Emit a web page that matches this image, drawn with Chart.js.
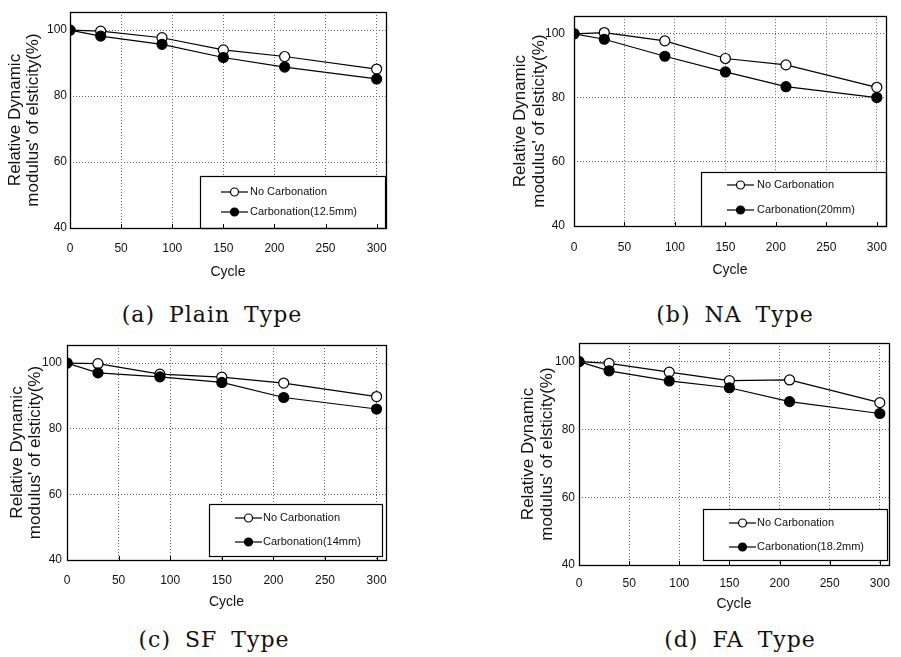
<!DOCTYPE html>
<html>
<head>
<meta charset="utf-8">
<script src="https://cdn.jsdelivr.net/npm/chart.js@4.4.1/dist/chart.umd.min.js"></script>
<style>
html,body{margin:0;padding:0;background:#fff;}
body{width:901px;height:657px;position:relative;overflow:hidden;}
canvas{position:absolute;}
.cap{position:absolute;font-family:'DejaVu Serif',serif;font-size:22px;letter-spacing:1px;word-spacing:6px;white-space:nowrap;transform:translate(-50%,-50%);color:#111;}
</style>
</head>
<body>
<canvas id="cA" width="400" height="290" style="left:0;top:0"></canvas>
<canvas id="cB" width="397" height="290" style="left:504px;top:0"></canvas>
<canvas id="cC" width="400" height="290" style="left:0;top:330px"></canvas>
<canvas id="cD" width="397" height="290" style="left:504px;top:330px"></canvas>
<div class="cap" style="left:212px;top:314px">(a) Plain Type</div>
<div class="cap" style="left:735px;top:314px">(b) NA Type</div>
<div class="cap" style="left:214px;top:639px">(c) SF Type</div>
<div class="cap" style="left:740px;top:639px">(d) FA Type</div>
<script>
/* freeze-thaw cycles vs relative dynamic modulus, 4 mix types */
const CYCLES = [0, 30, 90, 150, 210, 300];
const X_TICKS = [0, 50, 100, 150, 200, 250, 300];
const Y_TICKS = [40, 60, 80, 100];

const PLAIN_NO = [100, 99.7, 97.7, 94.0, 92.0, 88.2];
const PLAIN_C  = [100, 98.2, 95.7, 91.7, 88.8, 85.2];
const NA_NO    = [100, 100.4, 97.8, 92.3, 90.3, 83.3];
const NA_C     = [100, 98.3, 93.0, 88.1, 83.5, 80.1];
const SF_NO    = [100, 99.8, 96.6, 95.7, 93.9, 89.8];
const SF_C     = [100, 97.0, 95.8, 94.1, 89.5, 86.0];
const FA_NO    = [100, 99.5, 96.9, 94.4, 94.6, 87.9];
const FA_C     = [100, 97.3, 94.3, 92.3, 88.2, 84.7];

const NO_LABEL = 'No Carbonation';
const Y_TITLE = ['Relative Dynamic', "modulus' of elsticity(%)"];
const X_TITLE = 'Cycle';

const FONT = "'Liberation Sans', Arial, sans-serif";

function pts(vals){ return CYCLES.map((c,i)=>({x:c, y:vals[i]})); }

// outer frame + little tick marks on the bottom edge
const frame = {
  id:'frame',
  afterDraw(chart){
    const {ctx, chartArea:a} = chart;
    const xs = chart.scales.x;
    ctx.save();
    ctx.strokeStyle = '#000'; ctx.lineWidth = 1.3;
    ctx.strokeRect(Math.round(a.left)+0.5, Math.round(a.top)+0.5, Math.round(a.right-a.left), Math.round(a.bottom-a.top));
    ctx.lineWidth = 1;
    xs.ticks.forEach(t=>{
      const px = Math.round(xs.getPixelForValue(t.value))+0.5;
      ctx.beginPath(); ctx.moveTo(px, a.bottom); ctx.lineTo(px, a.bottom-4); ctx.stroke();
    });
    ctx.restore();
  }
};

// boxed legend inside the lower right of the plot
const boxLegend = {
  id:'boxLegend',
  afterDatasetsDraw(chart, args, o){
    const {ctx, chartArea:a} = chart;
    const x = Math.round(a.right - o.right - o.w), y = Math.round(a.bottom - o.bottom - o.h);
    ctx.save();
    ctx.fillStyle = '#fff'; ctx.fillRect(x, y, o.w, o.h);
    ctx.strokeStyle = '#000'; ctx.lineWidth = 1.2;
    ctx.strokeRect(x+0.5, y+0.5, o.w, o.h);
    chart.data.datasets.forEach((ds,i)=>{
      const ry = y + o.rows[i];
      ctx.lineWidth = 1.2;
      ctx.beginPath(); ctx.moveTo(x+o.lineX, ry); ctx.lineTo(x+o.lineX+27, ry); ctx.stroke();
      ctx.beginPath(); ctx.arc(x+o.lineX+13.5, ry, 4, 0, Math.PI*2);
      ctx.fillStyle = ds.pointBackgroundColor; ctx.fill(); ctx.stroke();
      ctx.fillStyle = '#111'; ctx.font = '11px ' + FONT; ctx.textBaseline = 'middle';
      ctx.fillText(ds.label, x+o.textX, ry);
    });
    ctx.restore();
  }
};

function makeChart(id, noVals, cVals, cLabel, L){
  return new Chart(document.getElementById(id), {
    type:'line',
    data:{
      datasets:[
        { label:NO_LABEL, data:pts(noVals), order:1, borderColor:'#000', borderWidth:1.2,
          pointRadius:5, pointBackgroundColor:'#fff', pointBorderColor:'#000', pointBorderWidth:1.2, tension:0 },
        { label:cLabel, data:pts(cVals), order:0, borderColor:'#000', borderWidth:1.2,
          pointRadius:5, pointBackgroundColor:'#000', pointBorderColor:'#000', pointBorderWidth:1.2, tension:0 }
      ]
    },
    options:{
      responsive:false, animation:false, devicePixelRatio:1,
      layout:{ padding:{ left:0, top:L.top, right:L.right, bottom:0 } },
      plugins:{ legend:{display:false}, tooltip:{enabled:false}, boxLegend:L.legend },
      scales:{
        x:{
          type:'linear', min:0, max:309,
          afterBuildTicks: s => { s.ticks = X_TICKS.map(v=>({value:v})); },
          afterFit: s => { s.height = L.xH; },
          grid:{ display:true, color:'#666', lineWidth:1, drawTicks:false, drawOnChartArea:true },
          border:{ display:false, dash:[1,2] },
          ticks:{ padding:L.xTickPad, color:'#111', font:{family:FONT, size:12} },
          title:{ display:true, text:X_TITLE, color:'#111', font:{family:FONT, size:14}, padding:{top:0, bottom:L.xTitlePad} }
        },
        y:{
          min:40, max:105.5,
          afterBuildTicks: s => { s.ticks = Y_TICKS.map(v=>({value:v})); },
          afterFit: s => { s.width = L.yW; },
          grid:{ display:true, color:'#666', lineWidth:1, drawTicks:false, drawOnChartArea:true },
          border:{ display:false, dash:[1,2] },
          ticks:{ padding:L.yTickPad, color:'#111', font:{family:FONT, size:12} },
          title:{ display:true, text:Y_TITLE, color:'#111', font:{family:FONT, size:17, lineHeight:L.yLH}, padding:{top:L.yTitlePad, bottom:0} }
        }
      }
    },
    plugins:[frame, boxLegend]
  });
}

makeChart('cA', PLAIN_NO, PLAIN_C, 'Carbonation(12.5mm)', {
  top:12, right:12, yW:70, xH:62, xTickPad:13, yTickPad:3, xTitlePad:9.6, yTitlePad:6, yLH:'18px',
  legend:{ right:1, bottom:0, w:185, h:52, lineX:21, textX:50, rows:[16,36] }
});
makeChart('cB', NA_NO, NA_C, 'Carbonation(20mm)', {
  top:8, right:4, yW:70, xH:64, xTickPad:14, yTickPad:9, xTitlePad:11.6, yTitlePad:6.5, yLH:'19px',
  legend:{ right:0, bottom:0, w:185, h:54, lineX:26, textX:56, rows:[13,38] }
});
makeChart('cC', SF_NO, SF_C, 'Carbonation(14mm)', {
  top:15, right:14, yW:67, xH:60, xTickPad:13, yTickPad:5, xTitlePad:9.6, yTitlePad:8, yLH:'18px',
  legend:{ right:4, bottom:4, w:173, h:52, lineX:26, textX:54, rows:[14,38] }
});
makeChart('cD', FA_NO, FA_C, 'Carbonation(18.2mm)', {
  top:13, right:4, yW:75, xH:55, xTickPad:11, yTickPad:4, xTitlePad:7.6, yTitlePad:14.5, yLH:'19px',
  legend:{ right:2, bottom:5, w:184, h:51, lineX:26, textX:54, rows:[14,38] }
});
</script>
</body>
</html>
